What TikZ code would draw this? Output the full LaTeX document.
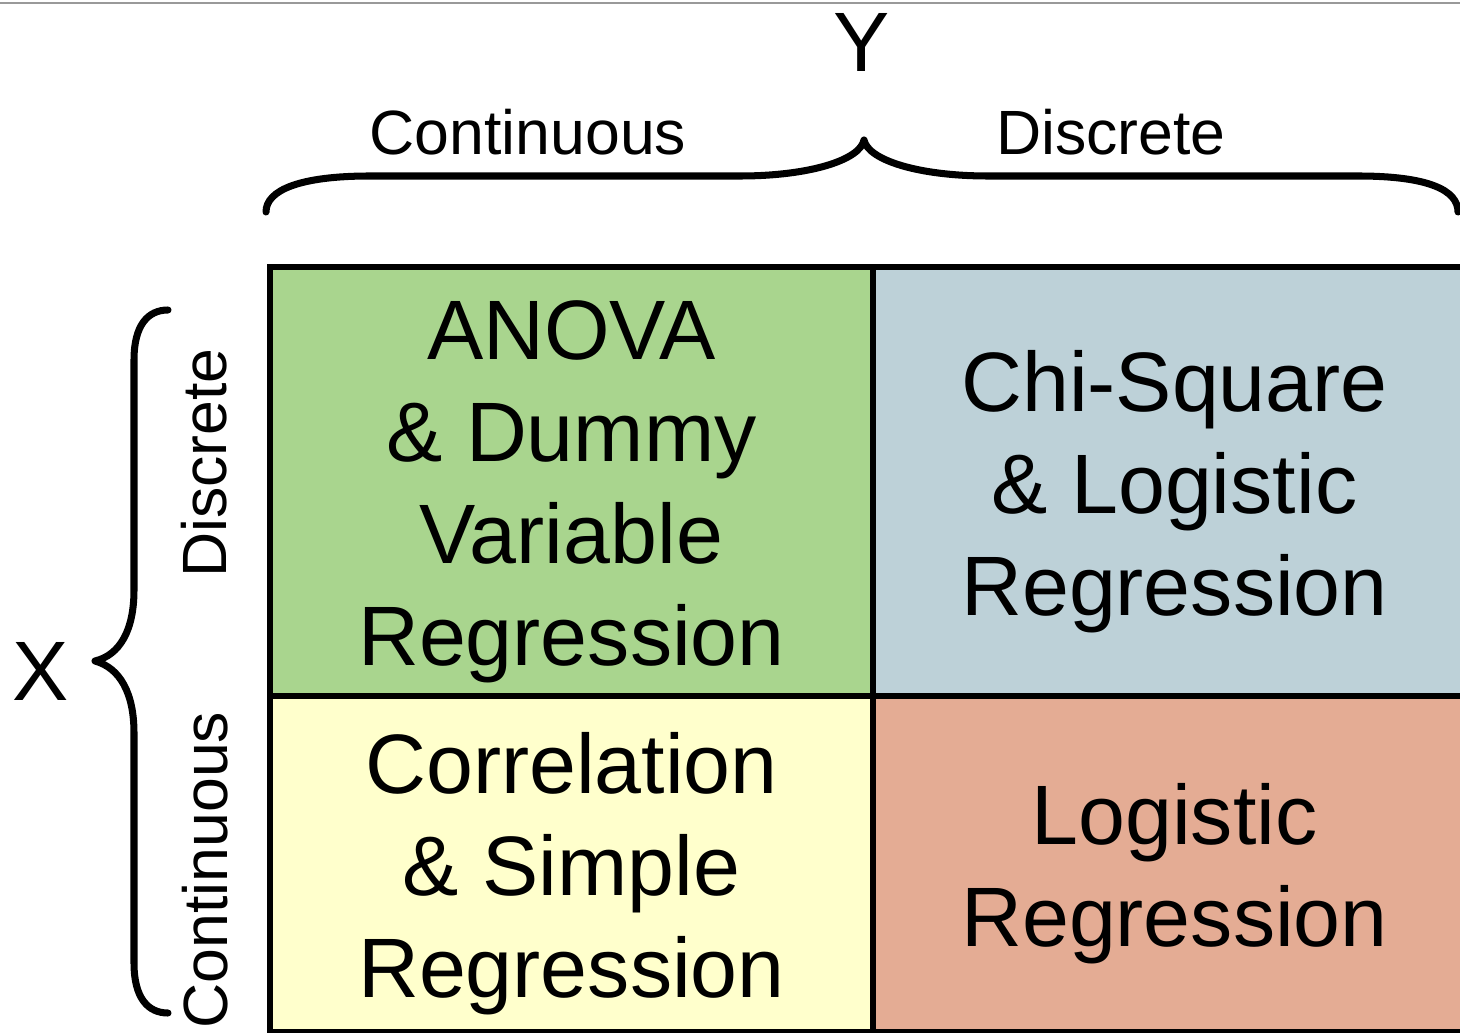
\documentclass[tikz,border=0pt]{standalone}
\usepackage{fontspec}
\setmainfont{Liberation Sans}
\usetikzlibrary{positioning}
\definecolor{cellgreen}{HTML}{A9D58E}
\definecolor{cellblue}{HTML}{BDD1D8}
\definecolor{cellyellow}{HTML}{FFFFCC}
\definecolor{cellsalmon}{HTML}{E4AC94}
\tikzset{
  cell/.style={draw=black,line width=3.4pt,inner sep=0pt,minimum width=12.06cm},
  celltext/.style={align=center,inner sep=0pt,yshift=-0.2cm,font=\fontsize{48}{58}\selectfont},
  axislabel/.style={anchor=base,inner sep=0pt,font=\fontsize{48}{58}\selectfont},
  sublabel/.style={anchor=base,inner sep=0pt,font=\fontsize{35.6}{42}\selectfont},
  bracket/.style={line width=4pt,line cap=round,line join=round},
}
\begin{document}
\begin{tikzpicture}[x=0.02cm,y=-0.02cm]
\useasboundingbox (0,0) rectangle (1460,1033);
\clip (0,0) rectangle (1460,1033);
% \draw[help lines] (0,0) grid[step=100] (1460,1033);
\draw[black!40,line width=1.5pt] (0,3) -- (1460,3);
%
\node (green) [cell,fill=cellgreen,minimum height=8.58cm] at (571.5,481.5) {};
\node (blue) [cell,fill=cellblue,minimum height=8.58cm] at (1174.5,481.5) {};
\node (yellow) [cell,fill=cellyellow,minimum height=6.72cm] at (571.5,864) {};
\node (salmon) [cell,fill=cellsalmon,minimum height=6.72cm] at (1174.5,864) {};
%
\node (anova) [celltext] at (green.center) {ANOVA\\\& Dummy\\Variable\\Regression};
\node (chisq) [celltext] at (blue.center) {Chi-Square\\\& Logistic\\Regression};
\node (correl) [celltext] at (yellow.center) {Correlation\\\& Simple\\Regression};
\node (logit) [celltext] at (salmon.center) {Logistic\\Regression};
%
\node (ylab) [axislabel] at (862,72) {Y};
\node (xlab) [axislabel] at (41,700) {X};
\node (ycont) [sublabel] at (528,155) {Continuous};
\node (ydisc) [sublabel] at (1111,155) {Discrete};
\node (xdisc) [sublabel,rotate=90] at (226,463) {Discrete};
\node (xcont) [sublabel,rotate=90] at (227,870) {Continuous};
%
\draw[bracket] (266,212) .. controls (266,190) and (300,176) .. (370,176)
  -- (740,176) .. controls (810,176) and (860,160) .. (864,140)
  .. controls (868,160) and (918,176) .. (988,176)
  -- (1358,176) .. controls (1428,176) and (1458,190) .. (1458,212);
\draw[bracket] (168,310) .. controls (148,310) and (134,325) .. (134,360)
  -- (134,590) .. controls (134,630) and (120,655) .. (95,661)
  .. controls (120,668) and (134,693) .. (134,733)
  -- (134,963) .. controls (134,998) and (148,1013) .. (168,1013);
\end{tikzpicture}
\end{document}
